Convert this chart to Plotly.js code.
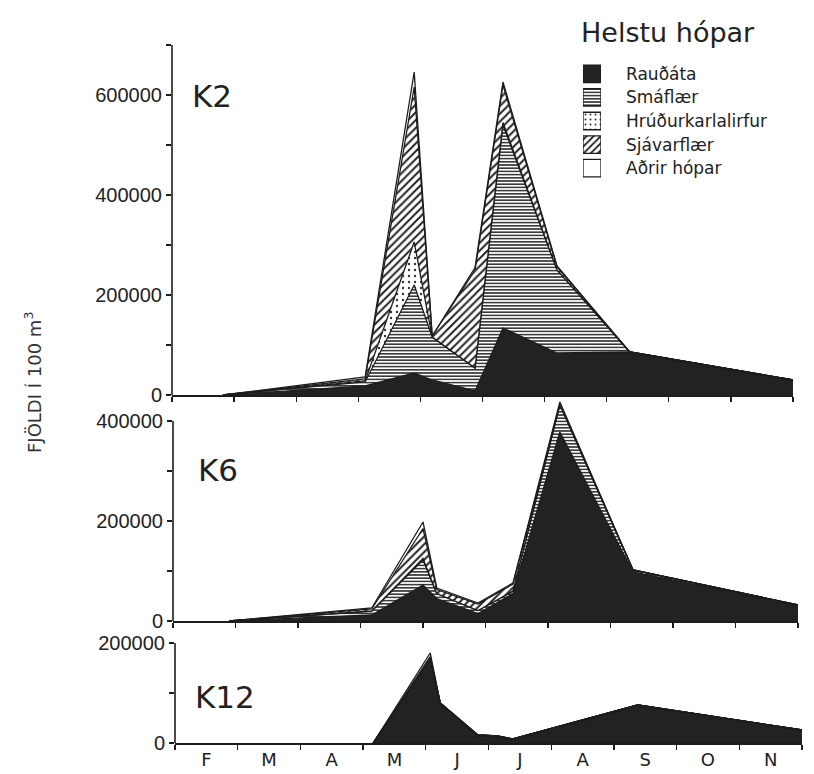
<!DOCTYPE html>
<html>
<head>
<meta charset="utf-8">
<script src="https://cdn.plot.ly/plotly-3.0.1.min.js"></script>
<style>html,body{margin:0;padding:0;background:#fff;}#chart{width:814px;height:774px;}</style>
</head>
<body>
<div id="chart"></div>
<script>
// ---- data ----
const groups = ['Rauðáta', 'Smáflær', 'Hrúðurkarlalirfur', 'Sjávarflær', 'Aðrir hópar'];
const stations = ['K2', 'K6', 'K12'];
const legendTitle = 'Helstu hópar';
const yTitle = 'FJÖLDI Í 100 m<sup>3</sup>';
const monthLabels = ['F', 'M', 'A', 'M', 'J', 'J', 'A', 'S', 'O', 'N'];
const monthMids = [2.5, 3.5, 4.5, 5.5, 6.5, 7.5, 8.5, 9.5, 10.5, 11.5];
const monthStarts = [2, 3, 4, 5, 6, 7, 8, 9, 10, 11, 12];

// K2 (dates as month number, Feb 1 = 2)
const k2Dates    = [2.82, 5.11, 5.90, 6.19, 6.88, 7.33, 8.20, 9.37, 12.0];
const k2Raudata  = [0, 18000, 44000, 30000, 8000, 134000, 84000, 86000, 30000];
const k2Smaflaer = [0, 8000, 176000, 86000, 46000, 406000, 166000, 0, 0];
const k2Hrudur   = [0, 2000, 86000, 0, 0, 5000, 0, 0, 0];
const k2Sjavar   = [0, 4000, 310000, 2000, 196000, 75000, 6000, 0, 0];
const k2Adrir    = [0, 4000, 30000, 0, 5000, 6000, 2000, 0, 0];

// K6
const k6Dates    = [2.90, 5.18, 6.00, 6.22, 6.88, 7.44, 8.19, 9.36, 12.0];
const k6Raudata  = [0, 12000, 72000, 45000, 15000, 55000, 378000, 98000, 31000];
const k6Smaflaer = [0, 8000, 50000, 10000, 6000, 5000, 55000, 4000, 1000];
const k6Hrudur   = [0, 0, 3000, 0, 0, 0, 0, 0, 0];
const k6Sjavar   = [0, 4000, 60000, 8000, 13000, 14000, 0, 0, 0];
const k6Adrir    = [0, 2000, 13000, 3000, 2000, 2000, 5000, 0, 0];

// K12
const k12Dates    = [5.16, 6.07, 6.23, 6.83, 7.14, 7.39, 9.38, 12.0];
const k12Raudata  = [0, 170000, 80000, 14000, 12000, 8000, 76000, 26000];
const k12Smaflaer = [0, 0, 0, 2000, 2000, 0, 0, 0];
const k12Hrudur   = [0, 0, 0, 0, 0, 0, 0, 0];
const k12Sjavar   = [0, 3000, 0, 0, 0, 0, 0, 0];
const k12Adrir    = [0, 7000, 0, 0, 0, 0, 0, 0];

// y axes: drawn axis extent and tick labels
const k2YAxisTop = 700000, k6YAxisTop = 400000, k12YAxisTop = 200000;
const k2YTicks = [0, 200000, 400000, 600000];
const k6YTicks = [0, 200000, 400000];
const k12YTicks = [0, 200000];

// ---- styles ----
const INK = '#1c1c1c';
const styles = [
  {fillcolor: '#222222'},
  {fillcolor: '#ffffff', pattern: {shape: '-', fgcolor: '#222', bgcolor: '#fff', size: 3.2, solidity: 0.45}},
  {fillcolor: '#ffffff', pattern: {shape: '.', fgcolor: '#333', bgcolor: '#fff', size: 6, solidity: 0.12}},
  {fillcolor: '#ffffff', pattern: {shape: '/', fgcolor: '#222', bgcolor: '#fff', size: 5.5, solidity: 0.35}},
  {fillcolor: '#ffffff'}
];

const stationData = [
  {dates: k2Dates, series: [k2Raudata, k2Smaflaer, k2Hrudur, k2Sjavar, k2Adrir], xa: 'x', ya: 'y'},
  {dates: k6Dates, series: [k6Raudata, k6Smaflaer, k6Hrudur, k6Sjavar, k6Adrir], xa: 'x2', ya: 'y2'},
  {dates: k12Dates, series: [k12Raudata, k12Smaflaer, k12Hrudur, k12Sjavar, k12Adrir], xa: 'x3', ya: 'y3'}
];

const traces = [];
stationData.forEach((st, si) => {
  st.series.forEach((vals, gi) => {
    const t = {
      type: 'scatter', mode: 'lines',
      x: st.dates, y: vals,
      xaxis: st.xa, yaxis: st.ya,
      stackgroup: 'st' + si,
      name: groups[gi],
      showlegend: false,
      line: {color: INK, width: 1.3, shape: 'linear'},
      fillcolor: styles[gi].fillcolor,
      hoverinfo: 'skip'
    };
    if (styles[gi].pattern) t.fillpattern = styles[gi].pattern;
    traces.push(t);
  });
});

// legend swatches (one small bar per group on its own little axis)
groups.forEach((g, gi) => {
  const m = {color: styles[gi].fillcolor, line: {color: INK, width: 1.3}};
  if (styles[gi].pattern) m.pattern = Object.assign({}, styles[gi].pattern, {size: 3.2});
  if (gi === 3) m.pattern.size = 5;
  if (gi === 2) m.pattern.size = 5;
  traces.push({
    type: 'bar', orientation: 'h', y: [g], x: [1], width: 0.74,
    xaxis: 'x4', yaxis: 'y4', marker: m, showlegend: false, hoverinfo: 'skip'
  });
});

const W = 814, H = 774;
const px = v => v / W;
const py = v => 1 - v / H;

function xAxis(x0, x1, yAnchor, showLabels) {
  return {
    domain: [px(x0), px(x1)], anchor: yAnchor, range: [2, 12],
    showline: true, linecolor: INK, linewidth: 1.5,
    showgrid: false, zeroline: false, fixedrange: true,
    tickmode: 'array', tickvals: monthMids, ticktext: monthLabels,
    showticklabels: showLabels,
    ticks: '', ticklen: 0,
    tickfont: {family: 'DejaVu Sans', size: 18, color: '#222'},
    minor: {tickmode: 'array', tickvals: monthStarts, ticks: 'outside', ticklen: 5, tickwidth: 1.3, tickcolor: INK, showgrid: false}
  };
}
function yAxis(yZeroPx, yTopPx, xAnchor, axisTop, rangeTop, labels) {
  const minorVals = [];
  for (let v = 100000; v <= axisTop; v += 200000) minorVals.push(v);
  return {
    domain: [py(yZeroPx), py(yTopPx)], anchor: xAnchor, range: [0, rangeTop],
    showline: false,
    showgrid: false, zeroline: false, fixedrange: true,
    tickmode: 'array', tickvals: labels, ticktext: labels.map(v => String(v)),
    ticks: 'outside', ticklen: 5, tickwidth: 1.3, tickcolor: INK,
    tickfont: {family: 'Liberation Sans', size: 20, color: '#222'},
    minor: {tickmode: 'array', tickvals: minorVals, ticks: 'outside', ticklen: 5, tickwidth: 1.3, tickcolor: INK, showgrid: false}
  };
}
function yLine(xref, yref, top) {
  return {type: 'line', xref: xref + ' domain', yref: yref, x0: 0, x1: 0, y0: 0, y1: top, line: {color: INK, width: 1.6}, layer: 'above'};
}

const PXV = 2000; // value per pixel on all three panels
const layout = {
  width: W, height: H,
  margin: {l: 0, r: 0, t: 0, b: 0},
  paper_bgcolor: '#ffffff', plot_bgcolor: 'rgba(0,0,0,0)',
  showlegend: false,
  barmode: 'overlay',
  xaxis: xAxis(172, 793, 'y', false),
  xaxis2: xAxis(173, 798, 'y2', false),
  xaxis3: xAxis(175, 802, 'y3', true),
  yaxis: yAxis(395, 395 - 700000 / PXV, 'x', k2YAxisTop, 700000, k2YTicks),
  yaxis2: yAxis(621, 621 - 460000 / PXV, 'x2', k6YAxisTop, 460000, k6YTicks),
  yaxis3: yAxis(743, 743 - 200000 / PXV, 'x3', k12YAxisTop, 200000, k12YTicks),
  xaxis4: {domain: [px(583), px(601)], anchor: 'y4', range: [0, 1], visible: false, fixedrange: true},
  yaxis4: {domain: [py(180), py(62)], anchor: 'x4', type: 'category', categoryorder: 'array', categoryarray: groups,
           autorange: 'reversed', side: 'right', showline: false, showgrid: false, zeroline: false, ticks: '',
           ticklabelstandoff: 24, tickfont: {family: 'DejaVu Sans', size: 17, color: '#222'}, fixedrange: true},
  shapes: [
    yLine('x', 'y', k2YAxisTop),
    yLine('x2', 'y2', k6YAxisTop),
    yLine('x3', 'y3', k12YAxisTop)
  ],
  annotations: [
    {text: legendTitle, xref: 'paper', yref: 'paper', x: px(579), y: py(33), xanchor: 'left', yanchor: 'middle', showarrow: false, font: {family: 'DejaVu Sans', size: 27, color: '#222'}},
    {text: stations[0], xref: 'paper', yref: 'paper', x: px(190), y: py(96), xanchor: 'left', yanchor: 'middle', showarrow: false, font: {family: 'DejaVu Sans', size: 31, color: '#222'}},
    {text: stations[1], xref: 'paper', yref: 'paper', x: px(196), y: py(470), xanchor: 'left', yanchor: 'middle', showarrow: false, font: {family: 'DejaVu Sans', size: 31, color: '#222'}},
    {text: stations[2], xref: 'paper', yref: 'paper', x: px(193), y: py(697), xanchor: 'left', yanchor: 'middle', showarrow: false, font: {family: 'DejaVu Sans', size: 31, color: '#222'}},
    {text: yTitle, xref: 'paper', yref: 'paper', x: px(33), y: py(383), xanchor: 'center', yanchor: 'middle', textangle: -90, showarrow: false, font: {family: 'DejaVu Sans', size: 18, color: '#333'}}
  ]
};

Plotly.newPlot('chart', traces, layout, {displayModeBar: false, staticPlot: true});
</script>
</body>
</html>
